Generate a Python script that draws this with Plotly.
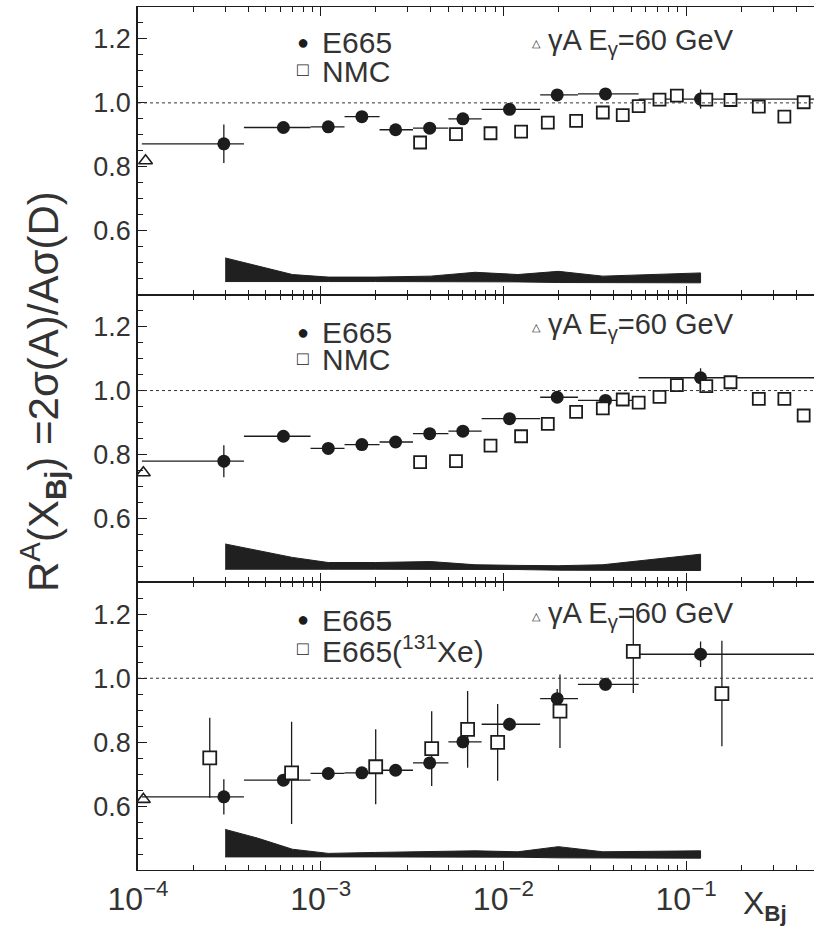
import plotly.graph_objects as go
from plotly.subplots import make_subplots

# ---------------- data ----------------
# E665 (common binning for all panels)
e665_x = [2.95e-4, 6.25e-4, 1.1e-3, 1.68e-3, 2.57e-3, 3.95e-3, 6.0e-3, 0.0108, 0.0197, 0.0362, 0.12]
e665_lo = [1.05e-4, 3.8e-4, 8.8e-4, 1.35e-3, 2.1e-3, 3.2e-3, 5.0e-3, 7.6e-3, 1.59e-2, 2.56e-2, 5.5e-2]
e665_hi = [3.8e-4, 8.8e-4, 1.35e-3, 2.1e-3, 3.2e-3, 5.0e-3, 7.6e-3, 1.59e-2, 2.56e-2, 5.5e-2, 0.8]

e665_y1 = [0.872, 0.923, 0.925, 0.957, 0.916, 0.921, 0.950, 0.980, 1.025, 1.028, 1.012]
e665_e1 = [0.060, 0.012, 0.012, 0.012, 0.012, 0.012, 0.012, 0.012, 0.012, 0.015, 0.030]
e665_y2 = [0.779, 0.857, 0.819, 0.831, 0.839, 0.865, 0.873, 0.912, 0.979, 0.969, 1.040]
e665_e2 = [0.050, 0.012, 0.012, 0.012, 0.012, 0.012, 0.012, 0.012, 0.012, 0.015, 0.030]
e665_y3 = [0.629, 0.681, 0.702, 0.704, 0.712, 0.735, 0.801, 0.856, 0.936, 0.981, 1.075]
e665_e3 = [0.055, 0.015, 0.012, 0.012, 0.012, 0.015, 0.020, 0.020, 0.030, 0.020, 0.040]

# NMC
nmc_x = [3.5e-3, 5.5e-3, 8.5e-3, 0.0125, 0.0175, 0.025, 0.035, 0.045, 0.055, 0.0715,
         0.089, 0.129, 0.175, 0.25, 0.345, 0.44]
nmc_y1 = [0.876, 0.902, 0.905, 0.910, 0.938, 0.944, 0.970, 0.962, 0.990, 1.010,
          1.023, 1.010, 1.009, 0.988, 0.957, 1.002]
nmc_y2 = [0.776, 0.779, 0.828, 0.857, 0.896, 0.933, 0.944, 0.972, 0.962, 0.980,
          1.017, 1.014, 1.026, 0.974, 0.974, 0.922]

# E665 (131Xe)
xe_x = [2.47e-4, 6.93e-4, 2.0e-3, 4.05e-3, 6.37e-3, 9.3e-3, 0.0204, 0.0514, 0.157]
xe_y = [0.751, 0.704, 0.723, 0.780, 0.840, 0.799, 0.897, 1.084, 0.952]
xe_e = [0.125, 0.160, 0.117, 0.117, 0.120, 0.120, 0.115, 0.130, 0.165]

# gamma A, E_gamma = 60 GeV
ga_x = [1.1e-4, 1.07e-4, 1.07e-4]
ga_y = [0.819, 0.743, 0.621]

# systematic error bands
band_x = [3.0e-4, 4.5e-4, 7e-4, 1.1e-3, 2e-3, 4e-3, 7e-3, 1.2e-2, 2e-2, 3.5e-2, 6e-2, 0.12]
band_lo = [0.441, 0.441, 0.441, 0.441, 0.441, 0.441, 0.441, 0.440, 0.438, 0.437, 0.437, 0.437]
band_up1 = [0.515, 0.490, 0.463, 0.455, 0.455, 0.458, 0.470, 0.463, 0.473, 0.458, 0.462, 0.468]
band_up2 = [0.520, 0.500, 0.478, 0.462, 0.462, 0.465, 0.455, 0.453, 0.452, 0.455, 0.470, 0.488]
band_up3 = [0.527, 0.500, 0.465, 0.452, 0.455, 0.458, 0.460, 0.457, 0.473, 0.457, 0.458, 0.460]

x_ticks = [1e-4, 1e-3, 1e-2, 1e-1]
x_ticktext = ["10<sup>−4</sup>", "10<sup>−3</sup>", "10<sup>−2</sup>", "10<sup>−1</sup>"]
y_ticks = [0.6, 0.8, 1.0, 1.2]
y_ticktext = ["0.6", "0.8", "1.0", "1.2"]

# ---------------- figure ----------------
W, H = 814, 932
ML, MR, MT, MB = 138, 0, 7, 62
FONT = "Liberation Sans, Arial, sans-serif"
INK = "#1c1c1c"

fig = make_subplots(rows=3, cols=1, shared_xaxes=True, vertical_spacing=0)

panels = [
    (e665_y1, e665_e1, band_up1),
    (e665_y2, e665_e2, band_up2),
    (e665_y3, e665_e3, band_up3),
]

for i, (ey, ee, bup) in enumerate(panels):
    r = i + 1
    # band
    fig.add_trace(go.Scatter(
        x=band_x + band_x[::-1], y=bup + band_lo[::-1],
        fill="toself", fillcolor="#202020", mode="lines",
        line=dict(color="#202020", width=1), showlegend=False, hoverinfo="skip"),
        row=r, col=1)
    # E665
    fig.add_trace(go.Scatter(
        x=e665_x, y=ey, mode="markers",
        marker=dict(symbol="circle", size=13, color=INK),
        error_x=dict(type="data", symmetric=False,
                     array=[h - x for h, x in zip(e665_hi, e665_x)],
                     arrayminus=[x - l for l, x in zip(e665_lo, e665_x)],
                     width=0, thickness=1.3, color=INK),
        error_y=dict(type="data", array=ee, width=0, thickness=1.3, color=INK),
        showlegend=False), row=r, col=1)
    # gamma A
    fig.add_trace(go.Scatter(
        x=[ga_x[i]], y=[ga_y[i]], mode="markers",
        marker=dict(symbol="triangle-up-open", size=12, color=INK, line=dict(width=1.6, color=INK)),
        showlegend=False), row=r, col=1)

# NMC
for r, ny in ((1, nmc_y1), (2, nmc_y2)):
    fig.add_trace(go.Scatter(
        x=nmc_x, y=ny, mode="markers",
        marker=dict(symbol="square", size=12, color="white", line=dict(width=1.8, color=INK)),
        showlegend=False), row=r, col=1)

# Xe
fig.add_trace(go.Scatter(
    x=xe_x, y=xe_y, mode="markers",
    marker=dict(symbol="square", size=13, color="white", line=dict(width=1.8, color=INK)),
    error_y=dict(type="data", array=xe_e, width=0, thickness=1.3, color=INK),
    showlegend=False), row=3, col=1)

for r in (1, 2, 3):
    fig.add_hline(y=1.0, line=dict(color="#333", width=1, dash="dot"), row=r, col=1)

minor_x = [k * 10.0 ** n for n in range(-4, 0) for k in range(2, 10)]

for r in (1, 2, 3):
    fig.update_xaxes(
        type="log", range=[-4, -0.30], showgrid=False, zeroline=False,
        showline=True, linecolor=INK, linewidth=1.2, mirror="ticks",
        ticks="inside", ticklen=9, tickwidth=1.2, tickcolor=INK,
        tickvals=x_ticks, ticktext=x_ticktext,
        minor=dict(tickvals=minor_x, ticks="inside", ticklen=5, tickwidth=1.0, tickcolor=INK, showgrid=False),
        showticklabels=(r == 3),
        tickfont=dict(family=FONT, size=32, color="#333"),
        row=r, col=1)
    fig.update_yaxes(
        range=[0.4, 1.3], showgrid=False, zeroline=False,
        showline=True, linecolor=INK, linewidth=1.6, mirror=False,
        ticks="inside", ticklen=9, tickwidth=1.2, tickcolor=INK,
        tickvals=y_ticks, ticktext=y_ticktext,
        minor=dict(dtick=0.05, tick0=0.4, ticks="inside", ticklen=5, tickwidth=1.0, tickcolor=INK, showgrid=False),
        tickfont=dict(family=FONT, size=27, color="#333"),
        row=r, col=1)

PW = W - ML - MR
PH = H - MT - MB


def px(xp):
    return (xp - ML) / PW


def py(yp):
    return (H - MB - yp) / PH


def txt(x, y, s, size, anchor="left", color="#333"):
    fig.add_annotation(x=px(x), y=py(y), xref="paper", yref="paper", text=s,
                       showarrow=False, xanchor=anchor, yanchor="middle",
                       font=dict(family=FONT, size=size, color=color))


# panel legends
legend_rows = [
    (42, 70, "NMC"),
    (332, 358, "NMC"),
    (619, 648, "E665(<sup>131</sup>Xe)"),
]
for (y1, y2, second) in legend_rows:
    txt(303, y1, "●", 20, "center", INK)
    txt(303, y2, "□", 19, "center", INK)
    txt(320, y1 + 1, "E665", 30)
    txt(320, y2 + 1, second, 30)

for yy in (42, 326, 615):
    txt(536, yy + 1, "△", 11, "center", INK)
    txt(546, yy, "γA E<sub>γ</sub>=60 GeV", 29)

# axis titles
txt(765, 905, "X<sub><b>Bj</b></sub>", 32, "center")
fig.add_annotation(x=px(42), y=py(392), xref="paper", yref="paper",
                   text="R<sup>A</sup>(X<sub><b>Bj</b></sub>) =2σ(A)/Aσ(D)",
                   textangle=-90, showarrow=False, xanchor="center", yanchor="middle",
                   font=dict(family=FONT, size=42, color="#333"))

fig.update_layout(
    width=W, height=H,
    margin=dict(l=ML, r=MR, t=MT, b=MB),
    paper_bgcolor="white", plot_bgcolor="white",
    showlegend=False,
)

fig.write_html("out.html")
